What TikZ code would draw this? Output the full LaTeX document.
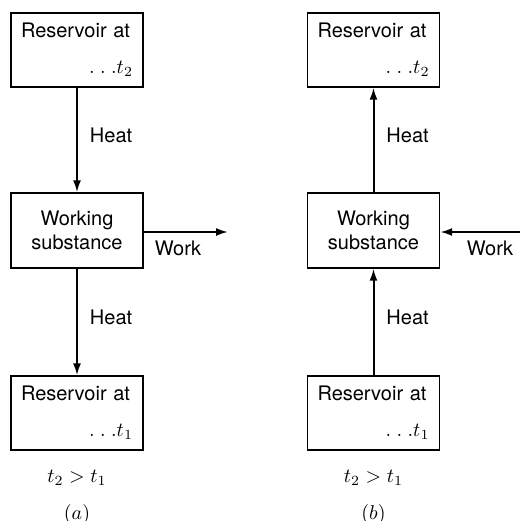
\documentclass[tikz,border=0pt]{standalone}
\usepackage{amsmath,amssymb}
\usepackage{fontspec}
\setsansfont{TeX Gyre Heros}
\usepackage{tikz}
\usetikzlibrary{arrows.meta}

\tikzset{
  resbox/.style={draw,line width=0.7pt,minimum width=66pt,minimum height=37pt,
    text width=56pt,inner xsep=5pt,align=left,font=\sffamily},
  workbox/.style={draw,line width=0.7pt,minimum width=66pt,minimum height=37.5pt,
    align=center,font=\sffamily},
  flow/.style={line width=1pt,-{Latex[length=6pt,width=4pt]}},
  lbl/.style={font=\sffamily,inner sep=0pt}
}

\begin{document}
\begin{tikzpicture}[x=0.5pt,y=-0.5pt]
\useasboundingbox (0,0) rectangle (520,521);
% (a) engine
\node[resbox] (hotA) at (77,50) {Reservoir at\\[6pt]\hfill$.\;.\;.t_2$};
\node[workbox] (workA) at (77,230.5) {Working\\substance};
\node[resbox] (coldA) at (77,413) {Reservoir at\\[6pt]\hfill$.\;.\;.t_1$};
\draw[flow] (hotA) -- node[lbl,pos=0.46,right=6pt] (heatA1) {Heat} (workA);
\draw[flow] (workA) -- node[lbl,pos=0.46,right=6pt] (heatA2) {Heat} (coldA);
\coordinate (outA) at (228,232);
\draw[flow] (workA.east |- outA) -- (outA);
\node[lbl] (workLblA) at (178,248) {Work};
\node (condA) at (77,478) {$t_2 > t_1$};
\node (capA) at (77,514) {$(a)$};
% (b) refrigerator
\node[resbox] (hotB) at (373.5,50) {Reservoir at\\[6pt]\hfill$.\;.\;.t_2$};
\node[workbox] (workB) at (373.5,230.5) {Working\\substance};
\node[resbox] (coldB) at (373.5,413) {Reservoir at\\[6pt]\hfill$.\;.\;.t_1$};
\draw[flow] (workB) -- node[lbl,pos=0.54,right=6pt] (heatB1) {Heat} (hotB);
\draw[flow] (coldB) -- node[lbl,pos=0.54,right=6pt] (heatB2) {Heat} (workB);
\coordinate (inB) at (520,232);
\draw[flow] (inB) -- (workB.east |- inB);
\node[lbl] (workLblB) at (490,248) {Work};
\node (condB) at (373.5,478) {$t_2 > t_1$};
\node (capB) at (373.5,514) {$(b)$};
\end{tikzpicture}
\end{document}
